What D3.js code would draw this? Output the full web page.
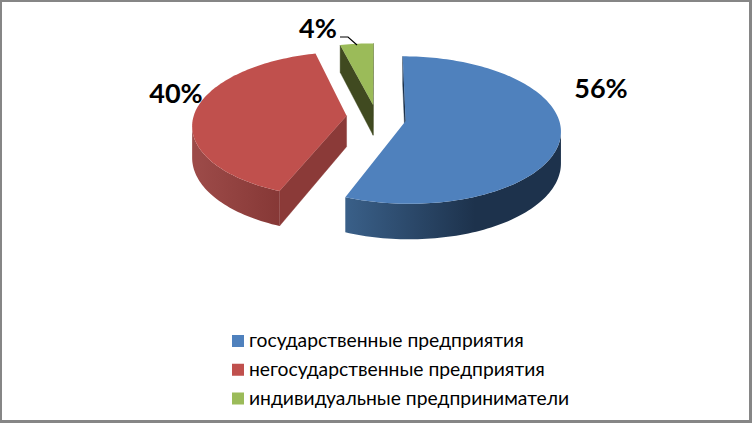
<!DOCTYPE html>
<html><head><meta charset="utf-8">
<script src="https://cdn.jsdelivr.net/npm/d3@7"></script>
<style>html,body{margin:0;padding:0;background:#fff}svg{display:block}text{font-family:Lato,"Open Sans",sans-serif}</style>
</head><body><svg id="c" width="752" height="423"></svg>
<script>
const categories=["государственные предприятия","негосударственные предприятия","индивидуальные предприниматели"];
const values=[56,40,4];
const labels=["56%","40%","4%"];
const topColors=["#4F81BD","#C0504D","#9BBB59"];
const wallLight=["#3A6089","#9C4A48","#404A20"];
const wallDark=["#1D324C","#863836","#404A20"];
const faceColors=["#1D324C","#8B3A38","#404A20"];
const labelX=[601,176,318], labelY=[98,103,38];

const W=752,H=423,svg=d3.select("#c");
const defs=svg.append("defs");
svg.append("rect").attr("width",W).attr("height",H).attr("fill","#868686");
svg.append("rect").attr("x",2).attr("y",2).attr("width",W-5).attr("height",H-5).attr("fill","#fff");

// perspective projection of the pie disc
const X=376,Y=118.5,R=153,S=72,K=.123,EXPLODE=.18,DEPTH=31;
const nudgeX=[2.5,-2,0.5], nudgeY=[0,-2,-1];
const pie=d3.pie().sort(null).value(d=>d)(values);
const line=d3.line();
const area=p=>d3.polygonArea(p);
const gradX=[[345,475],[198,280],[340,375]];

pie.forEach((d,i)=>{
  const project=(u,v,z=0)=>{const w=1-K*v;return [X+nudgeX[i]+R*u/w,Y+nudgeY[i]+(S*v+DEPTH*z)/w];};
  const g=svg.append("g");
  const mid=(d.startAngle+d.endAngle)/2;
  const ox=EXPLODE*Math.sin(mid),oy=-EXPLODE*Math.cos(mid);
  const n=Math.max(6,Math.ceil((d.endAngle-d.startAngle)*40));
  const angles=d3.range(n+1).map(k=>d.startAngle+(d.endAngle-d.startAngle)*k/n);
  const rim=a=>[ox+Math.sin(a),oy-Math.cos(a)];
  // radial faces
  [d.startAngle,d.endAngle].forEach(a=>{
    const [u,v]=rim(a);
    const q=[project(ox,oy),project(u,v),project(u,v,1),project(ox,oy,1)];
    const sign=a===d.startAngle?1:-1;
    if(sign*area(q)>0) g.append("path").attr("d",line(q)+"Z").attr("fill",faceColors[i]).attr("stroke",faceColors[i]).attr("stroke-width",.4);
  });
  // outer wall: the run of rim points facing the viewer, shaded by one gradient
  const lg=defs.append("linearGradient").attr("id","wall"+i).attr("gradientUnits","userSpaceOnUse")
    .attr("x1",gradX[i][0]).attr("x2",gradX[i][1]).attr("y1",0).attr("y2",0);
  lg.append("stop").attr("offset",0).attr("stop-color",wallLight[i]);
  lg.append("stop").attr("offset",1).attr("stop-color",wallDark[i]);
  const vis=[];
  for(let k=0;k<n;k++){
    const [a,b]=[rim(angles[k]),rim(angles[k+1])];
    const q=[project(...a),project(...b),project(...b,1),project(...a,1)];
    if(area(q)>0){ if(!vis.length) vis.push(a); vis.push(b); }
  }
  if(vis.length){
    const poly=[...vis.map(p=>project(...p)),...vis.slice().reverse().map(p=>project(...p,1))];
    g.append("path").attr("d",line(poly)+"Z").attr("fill",`url(#wall${i})`);
  }
  // top face
  const top=[project(ox,oy),...angles.map(a=>project(...rim(a)))];
  g.append("path").attr("d",line(top)+"Z").attr("fill",topColors[i]);
});

// data labels
labels.forEach((t,i)=>svg.append("text").attr("x",labelX[i]).attr("y",labelY[i]).attr("text-anchor","middle")
  .attr("font-size",27).attr("font-weight",700).attr("fill","#000").text(t));
svg.append("path").attr("d","M340,37H348L357,45").attr("fill","none").attr("stroke","#000").attr("stroke-width",1.2);

// legend
const ly=d3.scalePoint().domain(categories).range([341,398.5]);
categories.forEach((c,i)=>{
  svg.append("rect").attr("x",232).attr("y",ly(c)-6).attr("width",12).attr("height",12).attr("fill",topColors[i]);
  svg.append("text").attr("x",249).attr("y",ly(c)+6).attr("font-size",19.3).attr("fill","#000").text(c);
});
</script></body></html>
